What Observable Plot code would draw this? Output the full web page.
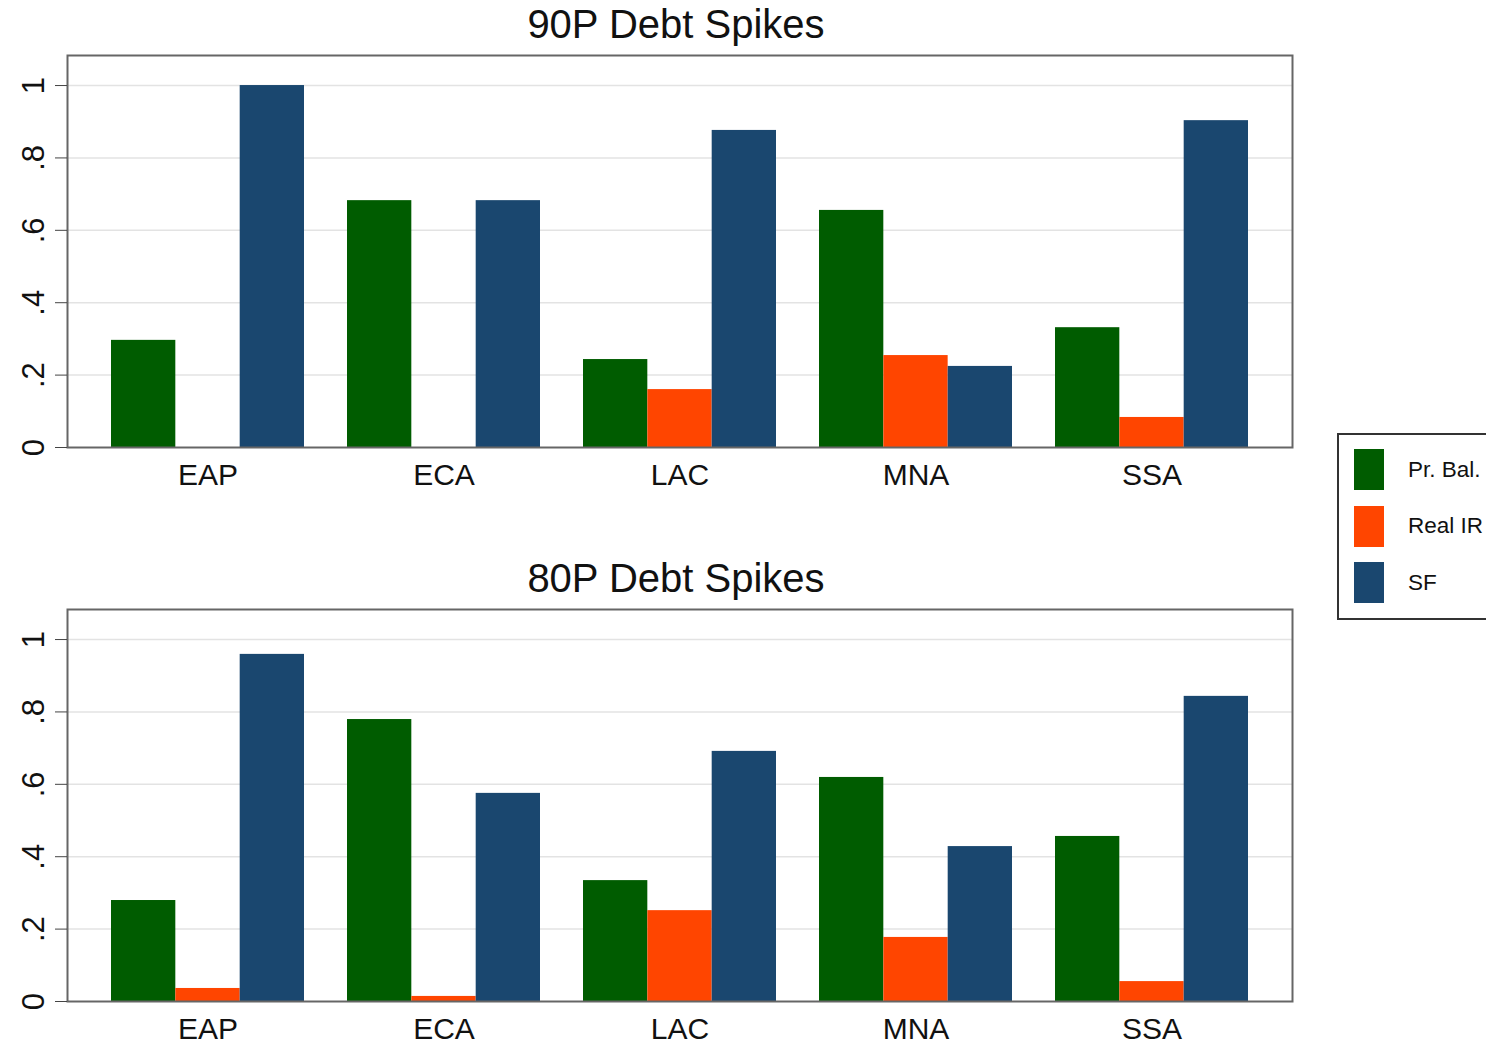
<!DOCTYPE html>
<html><head><meta charset="utf-8">
<script src="https://cdn.jsdelivr.net/npm/d3@7"></script>
<script src="https://cdn.jsdelivr.net/npm/@observablehq/plot@0.6"></script>
<style>
html,body{margin:0;padding:0;background:#fff}
body{width:1486px;height:1045px;overflow:hidden;position:relative;font-family:"Liberation Sans",Arial,Helvetica,sans-serif;color:#111}
.title{position:absolute;left:67px;width:1218px;text-align:center;font-size:40px;line-height:40px;white-space:nowrap}
.panel{position:absolute;left:0}
#legend{position:absolute;left:1337px;top:433px;width:170px;height:183px;border:2px solid #333;background:#fff}
.item{position:absolute;left:15px;height:41px;display:flex;align-items:center}
.sw{width:30px;height:41px;margin-right:24px}
.lab{font-size:22.5px;white-space:nowrap}
</style></head><body>
<div id="t1" class="title" style="top:4px">90P Debt Spikes</div>
<div id="p1" class="panel" style="top:50px"></div>
<div id="t2" class="title" style="top:558px">80P Debt Spikes</div>
<div id="p2" class="panel" style="top:604px"></div>
<div id="legend"></div>
<script>
const regions = ["EAP", "ECA", "LAC", "MNA", "SSA"];
const series = ["Pr. Bal.", "Real IR", "SF"];
const colors = ["#005c00", "#ff4500", "#1a476f"];

const p90PrBal  = [0.296, 0.682, 0.243, 0.655, 0.331];
const p90RealIR = [0.000, 0.000, 0.160, 0.254, 0.083];
const p90SF     = [1.000, 0.682, 0.876, 0.224, 0.903];

const p80PrBal  = [0.279, 0.779, 0.334, 0.619, 0.456];
const p80RealIR = [0.036, 0.014, 0.251, 0.177, 0.055];
const p80SF     = [0.959, 0.575, 0.691, 0.428, 0.843];

const yTicks = [0, 0.2, 0.4, 0.6, 0.8, 1];
const yTickLabels = ["0", ".2", ".4", ".6", ".8", "1"];

function panel(vals, mb) {
  const W = 1300, ml = 67, mr = 8, mt = 5, ph = 392;
  const pi = 0.1826, po = 0.185;
  const step = (W - ml - mr) / (regions.length - pi + 2 * po);
  const third = step * (1 - pi) / 3;
  const rows = [];
  series.forEach((s, k) => regions.forEach((r, i) => rows.push({region: r, series: s, k, value: vals[k][i]})));
  return Plot.plot({
    width: W, height: mt + ph + mb,
    marginLeft: ml, marginRight: mr, marginTop: mt, marginBottom: mb,
    style: {fontFamily: "Liberation Sans, Arial, sans-serif", color: "#111", background: "white", overflow: "visible"},
    x: {type: "band", domain: regions, paddingInner: pi, paddingOuter: po, label: null},
    y: {domain: [0, 1.083], label: null},
    marks: [
      Plot.gridY(yTicks.slice(1), {stroke: "#e3e3e3", strokeOpacity: 1, strokeWidth: 1.5}),
      ...series.map((s, k) => Plot.barY(rows.filter(d => d.k === k), {
        x: "region", y: "value", fill: colors[k],
        insetLeft: k * third, insetRight: (2 - k) * third
      })),
      Plot.frame({stroke: "#666", strokeWidth: 2}),
      Plot.axisY({ticks: yTicks, tickSize: 12, tickPadding: 12, tickRotate: -90, fontSize: 31,
        stroke: "#444", tickFormat: d => yTickLabels[yTicks.indexOf(d)], label: null}),
      Plot.axisX({tickSize: 0, tickPadding: 16, fontSize: 30, label: null})
    ]
  });
}

document.getElementById("p1").append(panel([p90PrBal, p90RealIR, p90SF], 50));
document.getElementById("p2").append(panel([p80PrBal, p80RealIR, p80SF], 41));

const lg = d3.select("#legend");
series.forEach((s, k) => {
  const it = lg.append("div").attr("class", "item").style("top", (14 + k * 56.5) + "px");
  it.append("div").attr("class", "sw").style("background", colors[k]);
  it.append("div").attr("class", "lab").text(s);
});
</script>
</body></html>
